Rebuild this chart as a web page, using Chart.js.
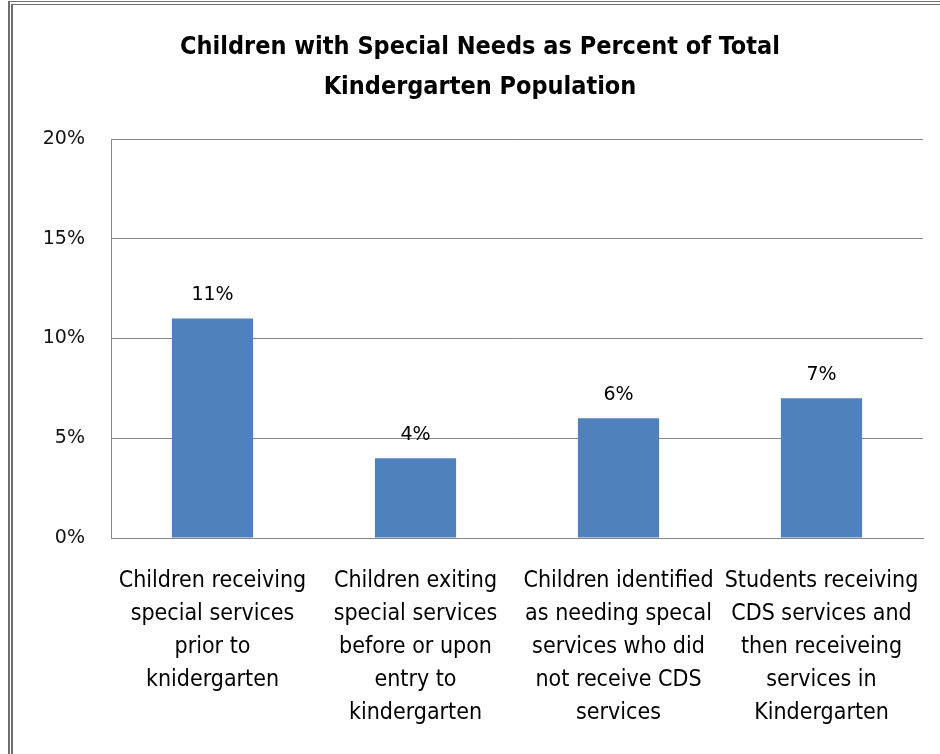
<!DOCTYPE html>
<html>
<head>
<meta charset="utf-8">
<script src="https://cdn.jsdelivr.net/npm/chart.js@4/dist/chart.umd.min.js"></script>
<style>
  html, body { margin: 0; padding: 0; background: #fff; overflow: hidden; }
  #wrap { position: absolute; left: 0; top: 0; width: 940px; height: 754px; }
  #frame {
    position: absolute; left: 8px; top: 1px; width: 1000px; height: 800px;
    border-left: 5px double #6e6e6e; border-top: 4px double #6e6e6e;
    pointer-events: none;
  }
</style>
</head>
<body>
<div id="wrap">
  <canvas id="chart" width="940" height="754"></canvas>
  <div id="frame"></div>
</div>
<script>
// chart data
const categories = [
  ['Children receiving', 'special services', 'prior to', 'knidergarten'],
  ['Children exiting', 'special services', 'before or upon', 'entry to', 'kindergarten'],
  ['Children identified', 'as needing specal', 'services who did', 'not receive CDS', 'services'],
  ['Students receiving', 'CDS services and', 'then receiveing', 'services in', 'Kindergarten']
];
const percentValues = [11, 4, 6, 7];
const yTicks = [0, 5, 10, 15, 20];

const titleLines = ['Children with Special Needs as Percent of Total', 'Kindergarten Population'];

const gridGray = '#868686';
const narrow = '"Liberation Sans Narrow", "DejaVu Sans Condensed", sans-serif';
const wide = '"DejaVu Sans", Verdana, sans-serif';

// title drawn by hand so it can sit where the original one is
const chartTitle = {
  id: 'chartTitle',
  afterDraw(chart) {
    const ctx = chart.ctx;
    ctx.save();
    ctx.font = 'bold 25px ' + narrow;
    ctx.fillStyle = '#000';
    ctx.textAlign = 'center';
    ctx.textBaseline = 'middle';
    titleLines.forEach((line, i) => ctx.fillText(line, 480, 47 + i * 40));
    ctx.restore();
  }
};

// draws the "11%" etc above each bar
const valueLabels = {
  id: 'valueLabels',
  afterDatasetsDraw(chart) {
    const ctx = chart.ctx;
    const meta = chart.getDatasetMeta(0);
    ctx.save();
    ctx.font = '19px ' + wide;
    ctx.fillStyle = '#000';
    ctx.textAlign = 'center';
    ctx.textBaseline = 'middle';
    meta.data.forEach((bar, i) => {
      ctx.fillText(percentValues[i] + '%', bar.x, bar.y - 23);
    });
    ctx.restore();
  }
};

new Chart(document.getElementById('chart'), {
  type: 'bar',
  data: {
    labels: categories,
    datasets: [{
      data: percentValues,
      backgroundColor: '#4F81BD',
      borderWidth: 0,
      barPercentage: 0.4,
      categoryPercentage: 1
    }]
  },
  options: {
    responsive: false,
    animation: false,
    layout: { padding: { left: 0, right: 17, top: 139, bottom: 0 } },
    plugins: {
      legend: { display: false },
      tooltip: { enabled: false },
      title: { display: false }
    },
    scales: {
      x: {
        grid: { display: false, drawTicks: false },
        border: { display: true, color: gridGray, width: 1 },
        ticks: {
          color: '#000',
          maxRotation: 0,
          autoSkip: false,
          padding: 27,
          font: { family: narrow, size: 23, lineHeight: 1.435 }
        },
        afterFit(scale) {
          scale.height = 216;
          scale.paddingLeft = 0;
          scale.paddingRight = 0;
        }
      },
      y: {
        min: 0,
        max: 20,
        afterBuildTicks(scale) { scale.ticks = yTicks.map(v => ({ value: v })); },
        grid: { color: gridGray, lineWidth: 1, drawTicks: false },
        border: { display: true, color: gridGray, width: 1 },
        ticks: {
          color: '#111',
          padding: 26,
          font: { family: wide, size: 19 },
          callback: v => v + '%'
        },
        afterFit(scale) { scale.width = 111; }
      }
    }
  },
  plugins: [chartTitle, valueLabels]
});
</script>
</body>
</html>
